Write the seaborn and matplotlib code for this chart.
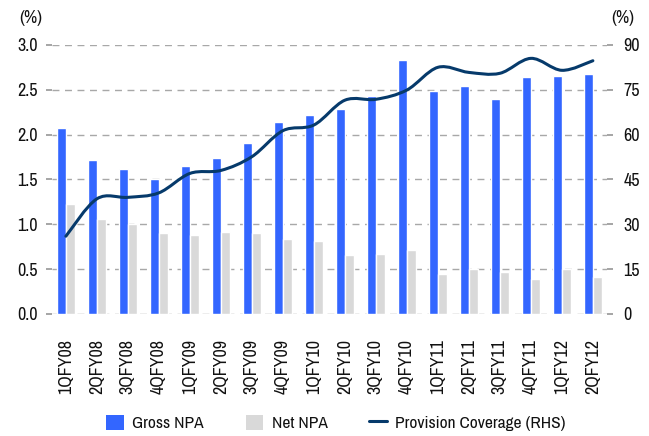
import numpy as np
import pandas as pd
import matplotlib
matplotlib.use("Agg")
import matplotlib.pyplot as plt
from matplotlib.path import Path
from matplotlib.patches import PathPatch
from matplotlib.lines import Line2D
from matplotlib.patches import Patch
import seaborn as sns

quarters = ["1QFY08", "2QFY08", "3QFY08", "4QFY08", "1QFY09", "2QFY09", "3QFY09", "4QFY09",
            "1QFY10", "2QFY10", "3QFY10", "4QFY10", "1QFY11", "2QFY11", "3QFY11", "4QFY11",
            "1QFY12", "2QFY12"]
gross_npa = [2.07, 1.72, 1.62, 1.51, 1.65, 1.74, 1.91, 2.14, 2.22, 2.28, 2.43, 2.83,
             2.49, 2.54, 2.40, 2.64, 2.65, 2.68]
net_npa = [1.23, 1.06, 1.00, 0.90, 0.88, 0.91, 0.90, 0.84, 0.81, 0.66, 0.67, 0.71,
           0.44, 0.50, 0.47, 0.39, 0.50, 0.41]
provision_cov = [26.0, 38.5, 39.0, 40.5, 47.0, 48.0, 52.6, 61.3, 63.2, 71.5, 71.8, 74.9,
                 82.5, 80.8, 80.5, 85.5, 81.5, 84.7]
left_ticks = [0.0, 0.5, 1.0, 1.5, 2.0, 2.5, 3.0]
right_ticks = [0, 15, 30, 45, 60, 75, 90]

BLUE = "#3366FF"
GREY = "#D9D9D9"
NAVY = "#063a6b"

sns.set_theme(style="white")
plt.rcParams['font.family'] = ['Archivo Narrow', 'Liberation Sans', 'DejaVu Sans']
plt.rcParams['text.color'] = '#111111'
plt.rcParams['xtick.color'] = '#111111'
plt.rcParams['ytick.color'] = '#111111'

df = pd.DataFrame({
    "quarter": quarters * 2,
    "value": gross_npa + net_npa,
    "series": ["Gross NPA"] * len(quarters) + ["Net NPA"] * len(quarters),
})

fig = plt.figure(figsize=(6.49, 4.36), dpi=100)
ax = fig.add_axes([0.080, 0.280, 0.855, 0.617])

sns.barplot(data=df, x="quarter", y="value", hue="series", palette=[BLUE, GREY],
            width=0.58, ax=ax, legend=False, saturation=1)

ax.set_ylim(0, 3.0)
ax.set_xlim(-0.45, len(quarters) - 0.55)
ax.set_yticks(left_ticks)
ax.set_yticklabels([f"{t:.1f}" for t in left_ticks], fontsize=13)
ax.set_xticks(range(len(quarters)))
ax.set_xticklabels(quarters, rotation=90, fontsize=13)
ax.set_xlabel("")
ax.set_ylabel("")
for s in ax.spines.values():
    s.set_visible(False)
ax.tick_params(axis="y", length=4, color="#9a9a9a", pad=6, left=True)
ax.tick_params(axis="x", length=0, pad=18)
for t in left_ticks:
    ax.axhline(t, color="#a8a8a8", lw=1, ls=(0, (5, 4)), zorder=0.5)

ax2 = ax.twinx()
ax2.set_ylim(0, 90)
ax2.set_yticks(right_ticks)
ax2.set_yticklabels([str(t) for t in right_ticks], fontsize=13)
for s in ax2.spines.values():
    s.set_visible(False)
ax2.tick_params(axis="y", length=4, color="#9a9a9a", pad=8, right=True)

# smooth line through data points (Catmull-Rom as cubic Bezier)
xs = np.arange(len(quarters), dtype=float)
ys = np.array(provision_cov, dtype=float)
verts = [(xs[0], ys[0])]
codes = [Path.MOVETO]
n = len(xs)
for i in range(n - 1):
    p0 = np.array([xs[max(i - 1, 0)], ys[max(i - 1, 0)]])
    p1 = np.array([xs[i], ys[i]])
    p2 = np.array([xs[i + 1], ys[i + 1]])
    p3 = np.array([xs[min(i + 2, n - 1)], ys[min(i + 2, n - 1)]])
    c1 = p1 + (p2 - p0) / 6.0
    c2 = p2 - (p3 - p1) / 6.0
    verts += [tuple(c1), tuple(c2), tuple(p2)]
    codes += [Path.CURVE4] * 3
ax2.add_patch(PathPatch(Path(verts, codes), facecolor="none", edgecolor=NAVY, lw=2.2,
                        capstyle="round", joinstyle="round"))

fig.text(0.030, 0.958, "(%)", fontsize=13, ha="left", va="center")
fig.text(0.978, 0.958, "(%)", fontsize=13, ha="right", va="center")

handles = [Patch(facecolor=BLUE, edgecolor="none"),
           Patch(facecolor=GREY, edgecolor="none"),
           Line2D([0], [0], color=NAVY, lw=2.2)]
fig.legend(handles, ["Gross NPA", "Net NPA", "Provision Coverage (RHS)"],
           loc="center", bbox_to_anchor=(0.518, 0.03), ncol=3, frameon=False,
           fontsize=12.5, handlelength=1.0, handleheight=1.0, columnspacing=2.4,
           handletextpad=0.5)

fig.savefig("out.png", dpi=100)
